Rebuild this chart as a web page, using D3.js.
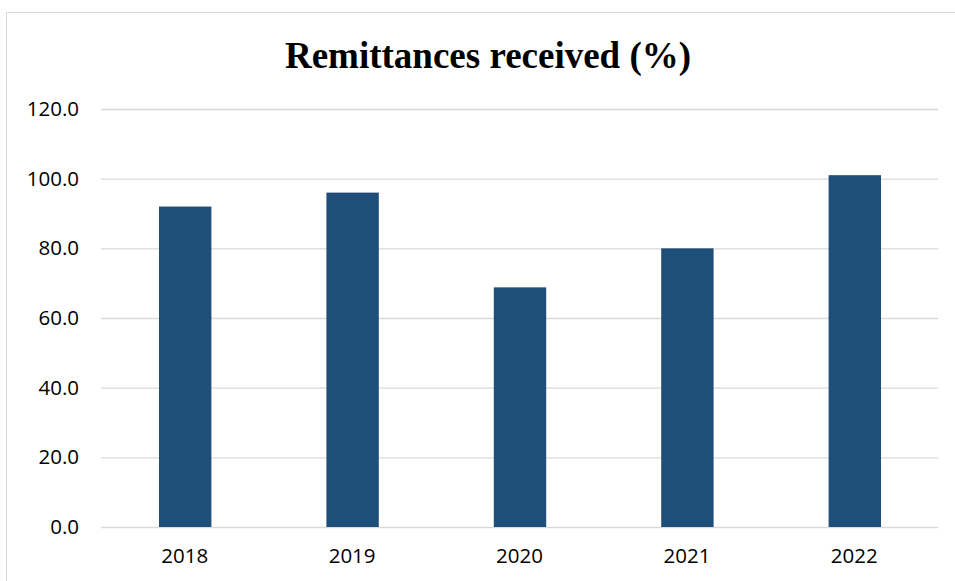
<!DOCTYPE html>
<html>
<head>
<meta charset="utf-8">
<script src="https://cdn.jsdelivr.net/npm/d3@7"></script>
<style>
  html, body { margin: 0; padding: 0; background: #ffffff; }
  svg { display: block; }
</style>
</head>
<body>
<svg id="chart" width="955" height="581"></svg>
<script>
// Remittances received, share by year
const years = ["2018", "2019", "2020", "2021", "2022"];
const values = [92.0, 96.0, 68.8, 80.0, 101.0];
const yTicks = [0, 20, 40, 60, 80, 100, 120];
const chartTitle = "Remittances received (%)";

const W = 955, H = 581;
const margin = { top: 109, right: 17, bottom: 54, left: 101 };
const innerW = W - margin.left - margin.right;
const innerH = H - margin.top - margin.bottom;

const svg = d3.select("#chart");

// outer chart frame
svg.append("rect")
  .attr("x", 6.5).attr("y", 12.5)
  .attr("width", W + 10).attr("height", H + 10)
  .attr("fill", "#ffffff")
  .attr("stroke", "#d9d9d9")
  .attr("stroke-width", 1);

svg.append("text")
  .attr("x", 488).attr("y", 68)
  .attr("text-anchor", "middle")
  .attr("font-family", "'Liberation Serif', 'Times New Roman', serif")
  .attr("font-weight", "bold")
  .attr("font-size", 37)
  .attr("fill", "#000000")
  .text(chartTitle);

const g = svg.append("g").attr("transform", `translate(${margin.left},${margin.top})`);

const x = d3.scaleBand().domain(years).range([0, innerW]).padding(0);
const y = d3.scaleLinear().domain([0, 120]).range([innerH, 0]);

// horizontal gridlines with value labels
const yAxis = d3.axisLeft(y)
  .tickValues(yTicks)
  .tickSize(-innerW)
  .tickPadding(22)
  .tickFormat(d3.format(".1f"));

const yg = g.append("g").call(yAxis);
yg.select(".domain").remove();
yg.selectAll(".tick line").attr("stroke", "#d9d9d9").attr("stroke-width", 1.3);
yg.selectAll(".tick text")
  .attr("font-family", "'Open Sans', Calibri, sans-serif")
  .attr("font-size", 20.5)
  .attr("fill", "#000000");

// bars
const barRatio = 0.313;
g.selectAll("rect.bar")
  .data(years.map((yr, i) => ({ yr, v: values[i] })))
  .join("rect")
  .attr("class", "bar")
  .attr("x", d => x(d.yr) + x.bandwidth() * (1 - barRatio) / 2 + 0.5)
  .attr("width", x.bandwidth() * barRatio)
  .attr("y", d => y(d.v))
  .attr("height", d => y(0) - y(d.v))
  .attr("fill", "#1f4e79");

// category axis
const xAxis = d3.axisBottom(x).tickSize(0).tickPadding(21);
const xg = g.append("g").attr("transform", `translate(0,${innerH})`).call(xAxis);
xg.select(".domain").remove();
xg.selectAll(".tick text")
  .attr("font-family", "'Open Sans', Calibri, sans-serif")
  .attr("font-size", 20.5)
  .attr("fill", "#000000");
</script>
</body>
</html>
